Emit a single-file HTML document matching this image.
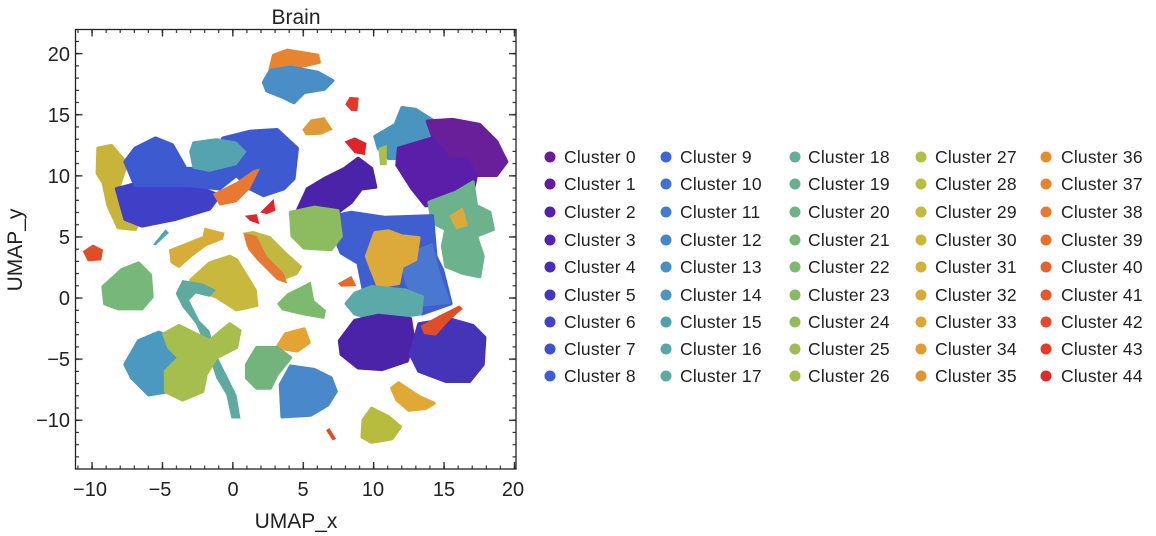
<!DOCTYPE html>
<html><head><meta charset="utf-8"><style>
html,body{margin:0;padding:0;background:#fff;width:1156px;height:536px;overflow:hidden}
svg{display:block}
text{font-family:"Liberation Sans",Arial,sans-serif;fill:#222}
</style></head><body>
<svg width="1156" height="536" viewBox="0 0 1156 536" xmlns="http://www.w3.org/2000/svg">
<defs>
<pattern id="xmin" patternUnits="userSpaceOnUse" width="14.08" height="600"><rect x="7.0" y="0" width="1.1" height="600" fill="#222"/></pattern>
<pattern id="xmaj" patternUnits="userSpaceOnUse" width="70.4" height="600"><rect x="21.0" y="0" width="1.3" height="600" fill="#222"/></pattern>
<pattern id="ymin" patternUnits="userSpaceOnUse" width="600" height="12.22"><rect x="0" y="4.2" width="600" height="1.1" fill="#222"/></pattern>
<pattern id="ymaj" patternUnits="userSpaceOnUse" width="600" height="61.1"><rect x="0" y="53.0" width="600" height="1.3" fill="#222"/></pattern>
</defs>
<text x="296" y="24" font-size="21" text-anchor="middle">Brain</text>
<g transform="translate(75,29) scale(0.3378) translate(-222,-87)" stroke-linejoin="round" stroke-width="10">
<path d="M800,205 L810,165 850,150 940,165 945,185 880,200 830,215Z" fill="#e8842f" stroke="#e8842f"/>
<path d="M780,245 L800,210 860,200 940,215 985,240 960,265 900,275 870,305 840,290 790,270Z" fill="#4a8ec8" stroke="#4a8ec8"/>
<path d="M1022,310 L1035,288 1062,290 1058,330 1040,330Z" fill="#e03a2a"/>
<path d="M895,385 L920,355 960,348 985,385 950,400 905,402Z" fill="#e09a35"/>
<path d="M1020,420 L1050,408 1085,425 1080,460 1050,455Z" fill="#e0222a"/>
<path d="M1110,405 L1170,370 1190,320 1230,325 1285,360 1270,440 1200,470 1150,470 1120,440Z" fill="#4a94c0" stroke="#4a94c0"/>
<path d="M1265,360 L1340,355 1420,370 1470,420 1500,480 1470,520 1410,520 1380,470 1330,480 1290,430Z" fill="#6a1f9a" stroke="#6a1f9a"/>
<path d="M1180,440 L1280,410 1330,470 1380,470 1410,520 1400,570 1330,600 1260,610 1220,560 1175,490Z" fill="#5a1ea8" stroke="#5a1ea8"/>
<path d="M1120,440 L1145,430 1145,490 1125,490Z" fill="#a9c04a"/>
<path d="M880,625 L910,560 960,530 1020,500 1060,470 1100,500 1112,555 1070,560 1040,600 1000,630Z" fill="#4b23a8" stroke="#4b23a8"/>
<path d="M1270,600 L1350,570 1400,540 1410,610 1450,630 1460,680 1410,700 1430,760 1420,820 1370,810 1320,790 1310,730 1320,680 1280,660Z" fill="#6cb38d" stroke="#6cb38d"/>
<path d="M1330,640 L1370,615 1385,670 1350,680Z" fill="#dcaa3a"/>
<path d="M990,640 L1040,630 1140,645 1280,640 1290,760 1310,800 1335,900 1250,930 1170,920 1080,880 1060,780 1010,750 990,700Z" fill="#3f5fd0" stroke="#3f5fd0"/>
<path d="M1180,760 L1280,720 1300,800 1335,900 1240,910 1200,840Z" fill="#4a78d0"/>
<path d="M860,630 L930,615 1000,625 1010,700 980,740 900,735 865,700Z" fill="#8dbb5f" stroke="#8dbb5f"/>
<path d="M1085,760 L1110,690 1150,685 1190,700 1240,705 1230,770 1190,790 1180,840 1120,850 1100,800Z" fill="#dcaa3a" stroke="#dcaa3a"/>
<path d="M1000,840 L1040,818 1055,848 1010,850Z" fill="#e56a2a"/>
<path d="M1025,900 L1050,870 1100,850 1200,860 1250,880 1245,930 1180,940 1100,945 1050,930Z" fill="#5ba9a9" stroke="#5ba9a9"/>
<path d="M1005,1010 L1050,950 1120,935 1215,945 1225,1010 1205,1070 1130,1095 1060,1090 1010,1050Z" fill="#4b23a8" stroke="#4b23a8"/>
<path d="M1215,1050 L1240,960 1330,945 1400,965 1435,1000 1430,1080 1390,1130 1320,1130 1240,1100Z" fill="#4533b8" stroke="#4533b8"/>
<path d="M1245,965 L1300,935 1360,905 1370,915 1330,950 1290,995 1255,990Z" fill="#e04e28"/>
<path d="M290,440 L330,432 375,485 350,560 385,620 420,640 400,680 350,675 320,610 305,540 288,515Z" fill="#c8b43a" stroke="#c8b43a"/>
<path d="M345,560 L420,540 520,545 600,560 650,580 620,620 520,650 420,670 370,650Z" fill="#3f3fc8" stroke="#3f3fc8"/>
<path d="M370,480 L400,440 460,410 510,430 550,500 620,500 660,410 740,390 820,385 880,440 870,530 840,560 780,580 740,560 700,520 650,560 560,550 480,550 400,550Z" fill="#3d5ad0" stroke="#3d5ad0"/>
<path d="M570,420 L640,410 700,420 730,450 700,490 620,510 570,500 560,450Z" fill="#55a3b0"/>
<path d="M630,575 L700,540 750,505 770,500 740,560 700,600 650,610Z" fill="#e87832"/>
<path d="M725,640 L760,635 768,665 740,655Z" fill="#e0262a"/>
<path d="M770,630 L795,605 810,590 815,625 790,635Z" fill="#e0262a"/>
<path d="M453,725 L490,680 500,690 460,728Z" fill="#4aa6b0"/>
<path d="M245,745 L275,725 305,740 300,772 260,775Z" fill="#e04e28"/>
<path d="M500,740 L550,720 600,700 605,675 665,690 660,710 610,730 570,760 530,795 505,780Z" fill="#d8ac38"/>
<path d="M720,690 L750,685 800,700 850,750 895,790 880,815 840,830 800,800 760,760 730,730Z" fill="#c0b840"/>
<path d="M720,690 L760,700 790,760 840,810 850,840 820,830 760,770 735,740Z" fill="#e57a32"/>
<path d="M305,850 L360,800 410,780 445,815 450,880 420,915 350,915 310,900Z" fill="#77b87a" stroke="#77b87a"/>
<path d="M565,830 L620,780 680,760 700,770 755,860 760,905 700,918 640,880 590,860Z" fill="#c8b83d" stroke="#c8b83d"/>
<path d="M820,900 L850,870 900,845 920,835 930,890 965,920 960,945 900,935 835,920Z" fill="#7dba6d"/>
<path d="M520,870 L540,830 600,840 640,860 620,880 580,870 560,890 590,950 620,980 640,1050 665,1100 700,1170 712,1240 685,1240 670,1170 640,1120 610,1030 580,960 540,910Z" fill="#5eaaa0"/>
<path d="M370,1080 L410,1010 470,985 525,1010 540,1100 500,1160 440,1170 390,1120Z" fill="#4b98c0" stroke="#4b98c0"/>
<path d="M485,990 L530,965 580,990 620,1010 680,960 710,980 700,1030 640,1060 610,1110 600,1160 540,1185 490,1160 490,1100 530,1060 500,1030Z" fill="#a6be4d" stroke="#a6be4d"/>
<path d="M820,1030 L845,990 900,975 915,1015 880,1040Z" fill="#e4a332" stroke="#e4a332"/>
<path d="M730,1080 L760,1030 820,1030 860,1060 820,1110 800,1150 760,1150 730,1120Z" fill="#73b47c" stroke="#73b47c"/>
<path d="M830,1140 L860,1085 930,1095 980,1120 995,1160 970,1200 920,1230 835,1235Z" fill="#4a88cc" stroke="#4a88cc"/>
<path d="M1160,1150 L1180,1135 1240,1175 1285,1195 1260,1210 1210,1215 1175,1185Z" fill="#e0a835" stroke="#e0a835"/>
<path d="M1075,1245 L1100,1210 1150,1235 1185,1265 1160,1300 1100,1310 1072,1295Z" fill="#b8bc3e" stroke="#b8bc3e"/>
<path d="M965,1275 L975,1268 995,1300 985,1305Z" fill="#e04e28"/>
</g>
<rect x="75.5" y="29.5" width="440.5" height="439.5" fill="none" stroke="#222" stroke-width="1.3"/>
<rect x="76" y="465.5" width="440" height="3" fill="url(#xmin)"/>
<rect x="76" y="462" width="440" height="6.5" fill="url(#xmaj)"/>
<rect x="76" y="30" width="440" height="3" fill="url(#xmin)"/>
<rect x="76" y="30" width="440" height="6.5" fill="url(#xmaj)"/>
<rect x="76" y="30" width="3" height="438" fill="url(#ymin)"/>
<rect x="76" y="30" width="6.5" height="438" fill="url(#ymaj)"/>
<rect x="512.5" y="30" width="3" height="438" fill="url(#ymin)"/>
<rect x="509" y="30" width="6.5" height="438" fill="url(#ymaj)"/>
<g font-size="20" text-anchor="middle">
<text x="90" y="496">−10</text><text x="160" y="496">−5</text><text x="233" y="496">0</text>
<text x="303" y="496">5</text><text x="373" y="496">10</text><text x="444" y="496">15</text><text x="513" y="496">20</text>
</g>
<g font-size="20" text-anchor="end">
<text x="70" y="61">20</text><text x="70" y="122">15</text><text x="70" y="183">10</text>
<text x="70" y="244">5</text><text x="70" y="305">0</text><text x="70" y="366">−5</text><text x="70" y="427">−10</text>
</g>
<text x="296" y="528" font-size="21" text-anchor="middle">UMAP_x</text>
<text transform="translate(22,250) rotate(-90)" font-size="21" text-anchor="middle">UMAP_y</text>
<g font-size="17.5" letter-spacing="0.2">
<g>
<circle cx="550" cy="157" r="5.5" fill="#6a1b9a"/><text x="564" y="163">Cluster 0</text>
<circle cx="550" cy="184" r="5.5" fill="#661ba0"/><text x="564" y="190">Cluster 1</text>
<circle cx="550" cy="212" r="5.5" fill="#5a1fa8"/><text x="564" y="218">Cluster 2</text>
<circle cx="550" cy="240" r="5.5" fill="#5124b0"/><text x="564" y="246">Cluster 3</text>
<circle cx="550" cy="267" r="5.5" fill="#4a2cb8"/><text x="564" y="273">Cluster 4</text>
<circle cx="550" cy="295" r="5.5" fill="#4436c2"/><text x="564" y="301">Cluster 5</text>
<circle cx="550" cy="322" r="5.5" fill="#4042c8"/><text x="564" y="328">Cluster 6</text>
<circle cx="550" cy="349" r="5.5" fill="#3e50cc"/><text x="564" y="355">Cluster 7</text>
<circle cx="550" cy="376" r="5.5" fill="#3e5ed0"/><text x="564" y="382">Cluster 8</text>
</g>
<g>
<circle cx="666" cy="157" r="5.5" fill="#3f66d2"/><text x="680" y="163">Cluster 9</text>
<circle cx="666" cy="184" r="5.5" fill="#4072d0"/><text x="680" y="190">Cluster 10</text>
<circle cx="666" cy="212" r="5.5" fill="#427ccc"/><text x="680" y="218">Cluster 11</text>
<circle cx="666" cy="240" r="5.5" fill="#4586c8"/><text x="680" y="246">Cluster 12</text>
<circle cx="666" cy="267" r="5.5" fill="#4890c2"/><text x="680" y="273">Cluster 13</text>
<circle cx="666" cy="295" r="5.5" fill="#4b98bc"/><text x="680" y="301">Cluster 14</text>
<circle cx="666" cy="322" r="5.5" fill="#50a0b4"/><text x="680" y="328">Cluster 15</text>
<circle cx="666" cy="349" r="5.5" fill="#56a6aa"/><text x="680" y="355">Cluster 16</text>
<circle cx="666" cy="376" r="5.5" fill="#5caaa0"/><text x="680" y="382">Cluster 17</text>
</g>
<g>
<circle cx="795" cy="157" r="5.5" fill="#62ae96"/><text x="808" y="163">Cluster 18</text>
<circle cx="795" cy="184" r="5.5" fill="#68b18c"/><text x="808" y="190">Cluster 19</text>
<circle cx="795" cy="212" r="5.5" fill="#6eb482"/><text x="808" y="218">Cluster 20</text>
<circle cx="795" cy="240" r="5.5" fill="#76b678"/><text x="808" y="246">Cluster 21</text>
<circle cx="795" cy="267" r="5.5" fill="#7eb86e"/><text x="808" y="273">Cluster 22</text>
<circle cx="795" cy="295" r="5.5" fill="#88ba64"/><text x="808" y="301">Cluster 23</text>
<circle cx="795" cy="322" r="5.5" fill="#92bc5a"/><text x="808" y="328">Cluster 24</text>
<circle cx="795" cy="349" r="5.5" fill="#9cbd52"/><text x="808" y="355">Cluster 25</text>
<circle cx="795" cy="376" r="5.5" fill="#a6be4c"/><text x="808" y="382">Cluster 26</text>
</g>
<g>
<circle cx="921" cy="157" r="5.5" fill="#b0bf46"/><text x="935" y="163">Cluster 27</text>
<circle cx="921" cy="184" r="5.5" fill="#babd42"/><text x="935" y="190">Cluster 28</text>
<circle cx="921" cy="212" r="5.5" fill="#c4ba3e"/><text x="935" y="218">Cluster 29</text>
<circle cx="921" cy="240" r="5.5" fill="#ccb63c"/><text x="935" y="246">Cluster 30</text>
<circle cx="921" cy="267" r="5.5" fill="#d4b03a"/><text x="935" y="273">Cluster 31</text>
<circle cx="921" cy="295" r="5.5" fill="#daaa38"/><text x="935" y="301">Cluster 32</text>
<circle cx="921" cy="322" r="5.5" fill="#dea436"/><text x="935" y="328">Cluster 33</text>
<circle cx="921" cy="349" r="5.5" fill="#e09c34"/><text x="935" y="355">Cluster 34</text>
<circle cx="921" cy="376" r="5.5" fill="#e29432"/><text x="935" y="382">Cluster 35</text>
</g>
<g>
<circle cx="1046" cy="157" r="5.5" fill="#e48c30"/><text x="1061" y="163">Cluster 36</text>
<circle cx="1046" cy="184" r="5.5" fill="#e5842f"/><text x="1061" y="190">Cluster 37</text>
<circle cx="1046" cy="212" r="5.5" fill="#e67a2e"/><text x="1061" y="218">Cluster 38</text>
<circle cx="1046" cy="240" r="5.5" fill="#e6702c"/><text x="1061" y="246">Cluster 39</text>
<circle cx="1046" cy="267" r="5.5" fill="#e5642b"/><text x="1061" y="273">Cluster 40</text>
<circle cx="1046" cy="295" r="5.5" fill="#e4582a"/><text x="1061" y="301">Cluster 41</text>
<circle cx="1046" cy="322" r="5.5" fill="#e24a29"/><text x="1061" y="328">Cluster 42</text>
<circle cx="1046" cy="349" r="5.5" fill="#e03a28"/><text x="1061" y="355">Cluster 43</text>
<circle cx="1046" cy="376" r="5.5" fill="#de2a28"/><text x="1061" y="382">Cluster 44</text>
</g>
</g>
</svg>
</body></html>
